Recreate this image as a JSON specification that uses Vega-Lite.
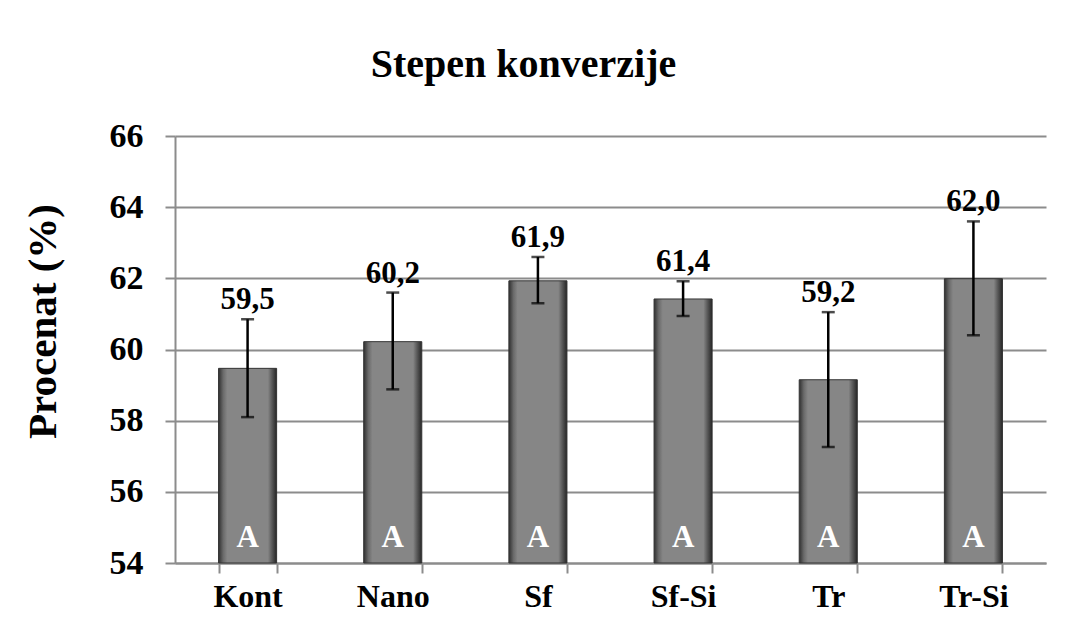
{
  "$schema": "https://vega.github.io/schema/vega-lite/v6.json",
  "width": 871,
  "height": 427,
  "autosize": {"type": "none"},
  "padding": {"left": 175, "top": 136, "right": 25, "bottom": 57},
  "background": "white",
  "title": {
    "text": "Stepen konverzije",
    "font": "Liberation Serif",
    "fontSize": 40,
    "fontWeight": "bold",
    "color": "black",
    "anchor": "middle",
    "baseline": "bottom",
    "dx": -87,
    "dy": 40,
    "offset": 34
  },
  "data": {
    "values": [
      {"cat": "Kont", "value": 59.47, "lo": 58.1, "hi": 60.85, "label": "59,5", "group": "A"},
      {"cat": "Nano", "value": 60.22, "lo": 58.88, "hi": 61.6, "label": "60,2", "group": "A"},
      {"cat": "Sf", "value": 61.93, "lo": 61.3, "hi": 62.6, "label": "61,9", "group": "A"},
      {"cat": "Sf-Si", "value": 61.42, "lo": 60.94, "hi": 61.92, "label": "61,4", "group": "A"},
      {"cat": "Tr", "value": 59.15, "lo": 57.26, "hi": 61.05, "label": "59,2", "group": "A"},
      {"cat": "Tr-Si", "value": 61.99, "lo": 60.4, "hi": 63.6, "label": "62,0", "group": "A"}
    ]
  },
  "encoding": {
    "x": {
      "field": "cat",
      "type": "nominal",
      "sort": null,
      "scale": {"paddingInner": 0.6, "paddingOuter": 0.3},
      "axis": {
        "title": null,
        "labelAngle": 0,
        "labelFont": "Liberation Serif",
        "labelFontSize": 32,
        "labelFontWeight": "bold",
        "labelColor": "black",
        "labelPadding": 8,
        "tickBand": "extent",
        "tickSize": 10,
        "tickColor": "#8c8c8c",
        "tickWidth": 2,
        "domainColor": "#8c8c8c",
        "domainWidth": 2,
        "grid": false
      }
    }
  },
  "layer": [
    {
      "mark": {
        "type": "bar",
        "stroke": "#333333",
        "strokeWidth": 1,
        "color": {
          "gradient": "linear",
          "x1": 0, "x2": 1, "y1": 0, "y2": 0,
          "stops": [
            {"offset": 0, "color": "#303030"},
            {"offset": 0.08, "color": "#6a6a6a"},
            {"offset": 0.15, "color": "#868686"},
            {"offset": 0.85, "color": "#868686"},
            {"offset": 0.92, "color": "#585858"},
            {"offset": 1, "color": "#262626"}
          ]
        }
      },
      "encoding": {
        "y": {
          "field": "value",
          "type": "quantitative",
          "scale": {"domain": [54, 66], "zero": false, "nice": false},
          "axis": {
            "title": "Procenat (%)",
            "titleFont": "Liberation Serif",
            "titleFontSize": 41,
            "titleFontWeight": "bold",
            "titleColor": "black",
            "titleAngle": -90,
            "titleAlign": "center",
            "titleBaseline": "middle",
            "titleX": -132,
            "titleY": 185,
            "values": [54, 56, 58, 60, 62, 64, 66],
            "labelFont": "Liberation Serif",
            "labelFontSize": 34,
            "labelFontWeight": "bold",
            "labelColor": "black",
            "labelPadding": 22,
            "tickSize": 10,
            "tickColor": "#8c8c8c",
            "tickWidth": 2,
            "domainColor": "#8c8c8c",
            "domainWidth": 2,
            "grid": true,
            "gridColor": "#8c8c8c",
            "gridWidth": 2
          }
        },
        "y2": {"datum": 54}
      }
    },
    {
      "mark": {"type": "rule", "color": "black", "strokeWidth": 2.5},
      "encoding": {
        "y": {"field": "lo", "type": "quantitative"},
        "y2": {"field": "hi"}
      }
    },
    {
      "mark": {"type": "tick", "color": "black", "size": 13, "thickness": 2.5, "orient": "horizontal"},
      "encoding": {"y": {"field": "lo", "type": "quantitative"}}
    },
    {
      "mark": {"type": "tick", "color": "black", "size": 13, "thickness": 2.5, "orient": "horizontal"},
      "encoding": {"y": {"field": "hi", "type": "quantitative"}}
    },
    {
      "mark": {"type": "text", "font": "Liberation Serif", "fontSize": 31, "fontWeight": "bold", "color": "black", "baseline": "alphabetic", "dy": -10},
      "encoding": {
        "y": {"field": "hi", "type": "quantitative"},
        "text": {"field": "label"}
      }
    },
    {
      "mark": {"type": "text", "font": "Liberation Serif", "fontSize": 31, "fontWeight": "bold", "color": "white", "baseline": "alphabetic", "dy": -16},
      "encoding": {
        "y": {"datum": 54},
        "text": {"field": "group"}
      }
    }
  ],
  "config": {"view": {"stroke": null}}
}
